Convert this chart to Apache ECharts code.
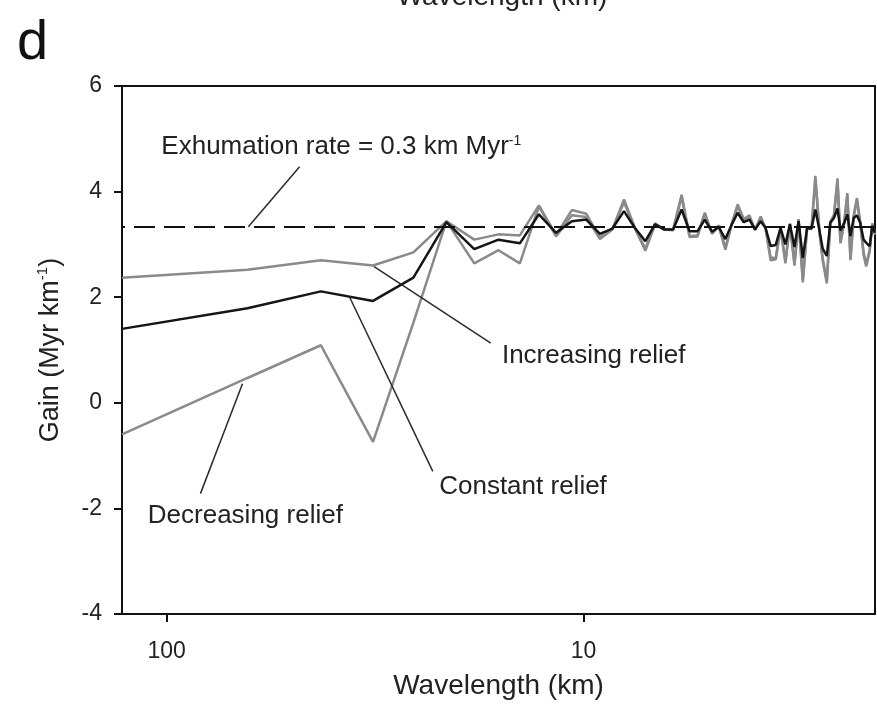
<!DOCTYPE html>
<html><head><meta charset="utf-8">
<script src="https://cdn.jsdelivr.net/npm/echarts@6/dist/echarts.min.js"></script>
<style>html,body{margin:0;padding:0;background:#fff}#c{width:877px;height:714px}</style>
</head><body><div id="c"></div>
<script>
// Wavelengths (km) of the harmonics, long to short
const wavelengthKm = [128,64,42.67,32,25.6,21.33,18.29,16,14.22,12.8,11.64,10.67,9.85,9.14,8.53,8,
  7.53,7.11,6.74,6.4,6.1,5.82,5.57,5.33,5.12,4.92,4.74,4.57,4.41,4.27,4.13,4,
  3.88,3.76,3.66,3.56,3.46,3.37,3.28,3.2,3.12,3.05,2.98,2.91,2.84,2.78,2.72,2.67,
  2.61,2.56,2.51,2.46,2.42,2.37,2.33,2.29,2.25,2.21,2.17,2.13,2.1,2.06,2.03,2];

const constantRelief = [1.40,1.79,2.11,1.93,2.37,3.42,2.91,3.09,3.02,3.57,3.22,3.44,3.47,3.20,3.30,3.63,
  3.31,3.06,3.38,3.28,3.28,3.66,3.25,3.25,3.47,3.24,3.33,3.10,3.38,3.60,3.42,3.47,
  3.28,3.44,3.31,2.97,2.99,3.31,3.00,3.38,2.95,3.44,2.74,3.31,3.30,3.66,3.28,2.92,
  2.78,3.41,3.50,3.68,3.26,3.41,3.57,3.16,3.50,3.55,3.41,3.09,3.03,2.97,3.35,3.22];

const increasingRelief = [2.37,2.52,2.70,2.60,2.85,3.44,3.09,3.19,3.17,3.74,3.18,3.65,3.58,3.13,3.29,3.85,
  3.31,2.92,3.40,3.28,3.27,3.94,3.16,3.17,3.60,3.20,3.36,2.93,3.40,3.76,3.48,3.55,
  3.27,3.53,3.30,2.75,2.74,3.32,2.68,3.40,2.64,3.48,2.33,3.32,3.30,4.30,3.27,2.74,
  2.30,3.43,3.55,4.25,3.05,3.43,3.97,2.74,3.55,3.88,3.42,2.85,2.62,2.90,3.40,3.20];

const decreasingRelief = [-0.60,0.47,1.09,-0.74,1.52,3.44,2.64,2.89,2.64,3.72,3.15,3.55,3.52,3.10,3.28,3.80,
  3.30,2.88,3.38,3.29,3.28,3.90,3.14,3.15,3.58,3.21,3.34,2.90,3.39,3.72,3.46,3.52,
  3.28,3.50,3.31,2.70,2.72,3.30,2.64,3.38,2.60,3.46,2.28,3.30,3.29,4.25,3.26,2.70,
  2.26,3.41,3.52,4.20,3.02,3.41,3.93,2.70,3.52,3.84,3.40,2.80,2.58,2.86,3.38,3.18];

const xTickValues = [100, 10];
const exhumationGain = 3.333; // gain for exhumation rate 0.3 km/Myr

const FONT = "'Liberation Sans', Arial, sans-serif";
const pairs = vals => wavelengthKm.map((w, i) => [w, vals[i]]);

const chart = echarts.init(document.getElementById('c'), null, {renderer: 'canvas'});
chart.setOption({
  animation: false,
  backgroundColor: '#fff',
  grid: {left: 122, right: 2, top: 86, bottom: 100, show: true, borderColor: '#111', borderWidth: 2, backgroundColor: 'transparent'},
  xAxis: {
    type: 'log', logBase: 10, inverse: true, min: 2, max: 128,
    name: 'Wavelength (km)', nameLocation: 'middle', nameGap: 58,
    nameTextStyle: {fontFamily: FONT, fontSize: 28, color: '#222'},
    axisLine: {show: true, onZero: false, lineStyle: {color: '#111', width: 2}},
    axisTick: {show: true, length: 8, lineStyle: {color: '#111', width: 2}, customValues: xTickValues},
    axisLabel: {fontFamily: FONT, fontSize: 23, color: '#222', margin: 26, customValues: xTickValues},
    splitLine: {show: false}, minorSplitLine: {show: false}
  },
  yAxis: {
    type: 'value', min: -4, max: 6, interval: 2,
    name: 'Gain (Myr km{sup|-1})', nameLocation: 'middle', nameGap: 55, nameRotate: 90,
    nameTextStyle: {fontFamily: FONT, fontSize: 27, color: '#222', lineHeight: 32,
      rich: {sup: {fontFamily: FONT, fontSize: 15, color: '#222', verticalAlign: 'top', lineHeight: 15}}},
    axisLine: {show: true, onZero: false, lineStyle: {color: '#111', width: 2}},
    axisTick: {show: true, length: 8, lineStyle: {color: '#111', width: 2}},
    axisLabel: {fontFamily: FONT, fontSize: 23, color: '#222', margin: 20},
    splitLine: {show: false}
  },
  series: [
    {name: 'Increasing relief', type: 'line', data: pairs(increasingRelief), showSymbol: false,
      lineStyle: {color: '#8a8a8a', width: 2.5}, z: 2},
    {name: 'Decreasing relief', type: 'line', data: pairs(decreasingRelief), showSymbol: false,
      lineStyle: {color: '#8a8a8a', width: 2.5}, z: 2},
    {name: 'Constant relief', type: 'line', data: pairs(constantRelief), showSymbol: false,
      lineStyle: {color: '#151515', width: 2.5}, z: 3,
      markLine: {silent: true, symbol: ['none', 'none'], label: {show: false},
        lineStyle: {color: '#111', width: 2, type: [21, 9]},
        data: [{yAxis: exhumationGain}]}}
  ]
});

// annotation labels with leader lines, anchored in data coordinates
const annotations = [
  {text: 'Exhumation rate = 0.3 km Myr{sup|-1}', at: [103, 4.85], line: [[48, 4.47], [63.7, exhumationGain]]},
  {text: 'Increasing relief', at: [15.7, 0.89], line: [[31.8, 2.58], [16.7, 1.13]]},
  {text: 'Constant relief', at: [22.2, -1.60], line: [[36.4, 2.0], [23.0, -1.30]]},
  {text: 'Decreasing relief', at: [111, -2.15], line: [[65.8, 0.36], [83, -1.72]]}
];
const toPx = p => chart.convertToPixel({gridIndex: 0}, p);
const graphics = [];
annotations.forEach(a => {
  const t = toPx(a.at);
  const p1 = toPx(a.line[0]), p2 = toPx(a.line[1]);
  graphics.push({type: 'line', shape: {x1: p1[0], y1: p1[1], x2: p2[0], y2: p2[1]},
    style: {stroke: '#2a2a2a', lineWidth: 1.5}, z: 10});
  graphics.push({type: 'text', x: t[0], y: t[1], z: 10,
    style: {text: a.text, fontFamily: FONT, fontSize: 26, fill: '#222', align: 'left', verticalAlign: 'middle',
      rich: {sup: {fontFamily: FONT, fontSize: 14, fill: '#222', verticalAlign: 'top', lineHeight: 14}}}});
});
// panel letter and clipped title of the panel above
graphics.push({type: 'text', x: 17, y: 44, z: 10,
  style: {text: 'd', fontFamily: FONT, fontSize: 56, fill: '#111', align: 'left', verticalAlign: 'middle'}});
graphics.push({type: 'text', x: 502, y: -3, z: 10,
  style: {text: 'Wavelength (km)', fontFamily: FONT, fontSize: 28, fill: '#222', align: 'center', verticalAlign: 'middle'}});
chart.setOption({graphic: graphics});
</script>
</body></html>
